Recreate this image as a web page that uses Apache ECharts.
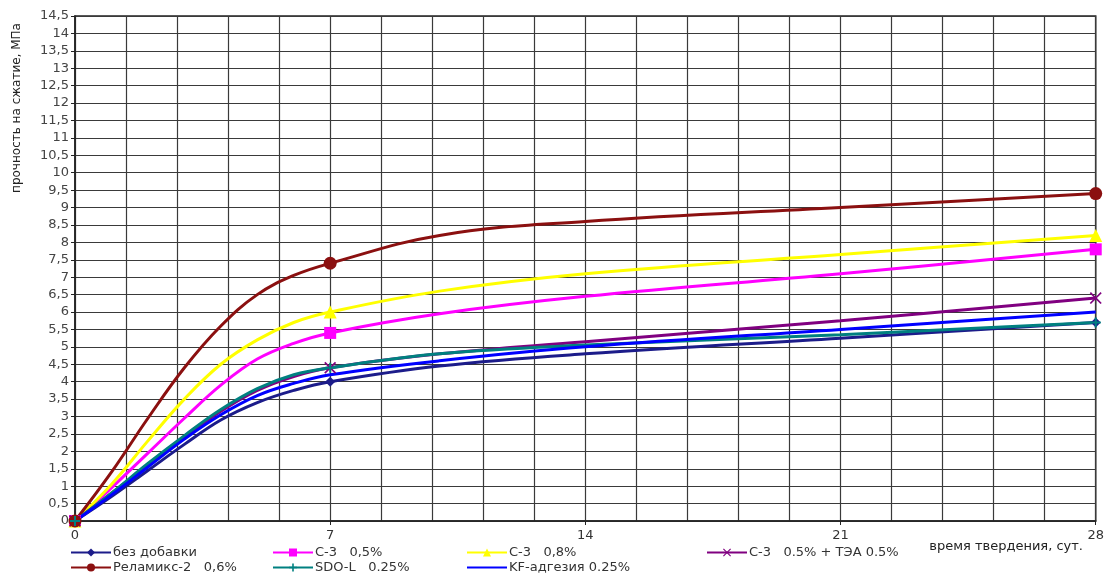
<!DOCTYPE html>
<html><head><meta charset="utf-8">
<script src="https://cdn.jsdelivr.net/npm/echarts@6/dist/echarts.min.js"></script>
<style>html,body{margin:0;padding:0;background:#fff}#c{width:1107px;height:576px}</style>
</head><body><div id="c"></div>
<script>
// ---- data ----
const days = [0, 1, 2, 3, 4, 5, 6, 7, 10, 14, 21, 28];
const markerDays = [0, 7, 28];
const xTickValues = [0, 7, 14, 21, 28];

const nameNone   = 'без добавки';
const nameC3_05  = 'С-3   0,5%';
const nameC3_08  = 'С-3   0,8%';
const nameC3_TEA = 'С-3   0.5% + ТЭА 0.5%';
const nameRelam  = 'Реламикс-2   0,6%';
const nameSDO    = 'SDO-L   0.25%';
const nameKF     = 'KF-адгезия 0.25%';

const valsNone   = [0, 0.70, 1.45, 2.20, 2.90, 3.40, 3.75, 4.00, 4.45, 4.80, 5.25, 5.70];
const valsC3_05  = [0, 0.95, 1.95, 2.95, 3.90, 4.65, 5.10, 5.40, 5.95, 6.45, 7.10, 7.80];
const valsC3_08  = [0, 1.05, 2.30, 3.50, 4.50, 5.20, 5.70, 6.00, 6.60, 7.10, 7.65, 8.20];
const valsC3_TEA = [0, 0.80, 1.60, 2.40, 3.15, 3.75, 4.15, 4.40, 4.80, 5.15, 5.75, 6.40];
const valsRelam  = [0, 1.40, 2.95, 4.40, 5.60, 6.50, 7.05, 7.40, 8.20, 8.60, 9.00, 9.40];
const valsSDO    = [0, 0.80, 1.65, 2.45, 3.20, 3.80, 4.20, 4.40, 4.80, 5.05, 5.35, 5.70];
const valsKF     = [0, 0.75, 1.55, 2.35, 3.05, 3.60, 3.95, 4.20, 4.60, 5.00, 5.50, 6.00];

const yAxisTitle = 'прочность на сжатие, МПа';
const xAxisTitle = 'время твердения, сут.';

// ---- chart ----
const FONT = 'DejaVu Sans';
const symX = 'path://M0,1L1,0L5,4L9,0L10,1L6,5L10,9L9,10L5,6L1,10L0,9L4,5Z';
const symPlus = 'path://M4,0H6V4H10V6H6V10H4V6H0V4H4Z';

function buildData(vals) {
  return days.map((d, i) => markerDays.indexOf(d) >= 0
    ? [d, vals[i]]
    : { value: [d, vals[i]], symbol: 'none' });
}
function mkSeries(name, vals, color, symbol, size) {
  return {
    name: name, type: 'line', smooth: 0.4, showAllSymbol: true,
    xAxisIndex: 0, yAxisIndex: 0,
    symbol: symbol, symbolSize: size,
    lineStyle: { color: color, width: 3 },
    itemStyle: { color: color, borderColor: color, borderWidth: 0 },
    emphasis: { disabled: true },
    data: buildData(vals)
  };
}

const series = [
  mkSeries(nameNone,   valsNone,   '#1c1c8a', 'diamond', 10),
  mkSeries(nameC3_05,  valsC3_05,  '#ff00ff', 'rect', 12),
  mkSeries(nameC3_08,  valsC3_08,  '#ffff00', 'triangle', 13),
  mkSeries(nameC3_TEA, valsC3_TEA, '#800080', symX, 12),
  mkSeries(nameRelam,  valsRelam,  '#8b1010', 'circle', 13),
  mkSeries(nameSDO,    valsSDO,    '#008080', symPlus, 10),
  mkSeries(nameKF,     valsKF,     '#0000ff', 'none', 8)
];

function legendCol(left, names) {
  return {
    show: true, orient: 'vertical', left: left, top: 546, padding: 0,
    itemGap: 2, itemWidth: 40, itemHeight: 10,
    textStyle: { fontFamily: FONT, fontSize: 13, color: '#333', padding: [0, 0, 0, -3] },
    data: names, selectedMode: false
  };
}

const chart = echarts.init(document.getElementById('c'), null, { renderer: 'canvas' });
chart.setOption({
  animation: false,
  backgroundColor: '#fff',
  grid: { left: 75, right: 10, top: 16, bottom: 55, show: true, borderColor: '#222', borderWidth: 1.5 },
  xAxis: [
    {
      type: 'value', position: 'bottom', min: 0, max: 28, interval: 7,
      axisLine: { show: true, lineStyle: { color: '#222', width: 1.5 } },
      axisTick: { show: true, length: 4, lineStyle: { color: '#222' } },
      axisLabel: { show: true, margin: 8, fontFamily: FONT, fontSize: 13, color: '#333',
        formatter: v => xTickValues.indexOf(Math.round(v)) >= 0 ? String(Math.round(v)) : '' },
      splitLine: { show: false }
    },
    {
      type: 'value', position: 'top', min: 0, max: 28, interval: 1.4,
      axisLine: { show: false }, axisTick: { show: false }, axisLabel: { show: false },
      splitLine: { show: true, lineStyle: { color: '#3a3a3a', width: 1.2 } }
    }
  ],
  yAxis: {
    type: 'value', min: 0, max: 14.5, interval: 0.5,
    axisLine: { show: true, lineStyle: { color: '#222', width: 1.5 } },
    axisTick: { show: true, length: 4, lineStyle: { color: '#222' } },
    axisLabel: { margin: 6, fontFamily: FONT, fontSize: 13, color: '#444',
      formatter: v => String(v).replace('.', ',') },
    splitLine: { show: true, lineStyle: { color: '#3a3a3a', width: 1.2 } }
  },
  legend: [
    legendCol(70,  [nameNone, nameRelam]),
    legendCol(272, [nameC3_05, nameSDO]),
    legendCol(466, [nameC3_08, { name: nameKF, itemStyle: { opacity: 0 } }]),
    legendCol(706, [nameC3_TEA])
  ],
  graphic: [
    { type: 'text', x: 17, y: 108, rotation: Math.PI / 2,
      style: { text: yAxisTitle, fontFamily: FONT, fontSize: 12, fill: '#222',
        textAlign: 'center', textVerticalAlign: 'middle' } },
    { type: 'text', x: 1083, y: 547,
      style: { text: xAxisTitle, fontFamily: FONT, fontSize: 13, fill: '#222',
        textAlign: 'right', textVerticalAlign: 'middle' } }
  ],
  series: series
});
</script>
</body></html>
